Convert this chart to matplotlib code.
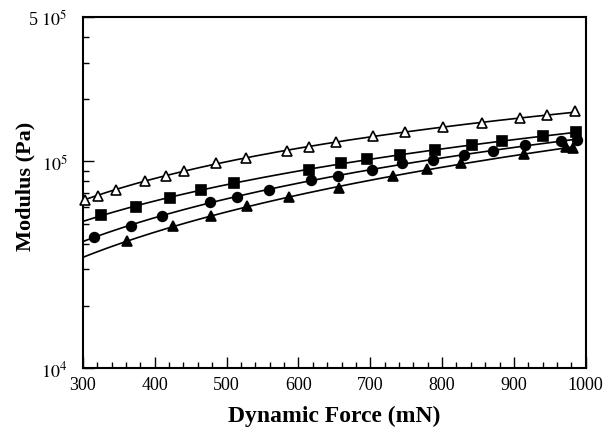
import numpy as np
import matplotlib
matplotlib.use("Agg")
import matplotlib.pyplot as plt
from matplotlib.ticker import FixedLocator, MultipleLocator, LogLocator, NullFormatter

# Datos (fuerza dinamica en mN, modulo en Pa)
f_open_tri = [303, 321, 346, 386, 416, 441, 485, 527, 584, 615, 653, 704,
              748, 801, 856, 909, 946, 985]
g_open_tri = [6.54e4, 6.82e4, 7.30e4, 8.08e4, 8.53e4, 9.02e4, 9.82e4, 1.039e5,
              1.129e5, 1.181e5, 1.237e5, 1.323e5, 1.388e5, 1.462e5, 1.535e5,
              1.617e5, 1.683e5, 1.748e5]

f_square = [325, 374, 421, 464, 510, 615, 659, 696, 741, 790, 841, 884, 940, 986]
g_square = [5.50e4, 6.04e4, 6.67e4, 7.27e4, 7.86e4, 9.12e4, 9.79e4, 1.024e5,
            1.080e5, 1.139e5, 1.200e5, 1.252e5, 1.323e5, 1.383e5]

f_circle = [315, 367, 410, 477, 515, 559, 617, 655, 702, 744, 787, 830, 871,
            915, 966, 988]
g_circle = [4.32e4, 4.89e4, 5.42e4, 6.34e4, 6.75e4, 7.30e4, 8.13e4, 8.53e4,
            9.12e4, 9.82e4, 1.019e5, 1.077e5, 1.127e5, 1.200e5, 1.252e5, 1.274e5]

f_fill_tri = [362, 426, 479, 529, 587, 657, 732, 779, 827, 914, 973, 982]
g_fill_tri = [4.11e4, 4.85e4, 5.46e4, 6.08e4, 6.69e4, 7.42e4, 8.53e4, 9.19e4,
              9.82e4, 1.086e5, 1.170e5, 1.161e5]

plt.rcParams['font.family'] = ['Liberation Serif', 'DejaVu Serif']
plt.rcParams['mathtext.fontset'] = 'stix'

fig = plt.figure(figsize=(6.14, 4.31), dpi=100, facecolor="white")
ax = fig.add_axes([0.135, 0.144, 0.819, 0.814])

series = [
    (f_open_tri, g_open_tri, '^', 'white'),
    (f_square, g_square, 's', 'black'),
    (f_circle, g_circle, 'o', 'black'),
    (f_fill_tri, g_fill_tri, '^', 'black'),
]

for f, g, mk, fc in series:
    f = np.array(f, dtype=float)
    g = np.array(g, dtype=float)
    # Curva de ajuste en escala log-log, desde 300 mN hasta el ultimo punto
    coef = np.polyfit(np.log10(f), np.log10(g), 2)
    xf = np.linspace(300, f.max(), 200)
    ax.plot(xf, 10 ** np.polyval(coef, np.log10(xf)), color='black', lw=1.2, zorder=2)
    ax.plot(f, g, linestyle='none', marker=mk, ms=7, mfc=fc, mec='black',
            mew=1.2, zorder=3, clip_on=False)

ax.set_yscale('log')
ax.set_xlim(300, 1000)
ax.set_ylim(1e4, 5e5)

ax.xaxis.set_major_locator(MultipleLocator(100))
ax.xaxis.set_minor_locator(MultipleLocator(20))
ax.yaxis.set_major_locator(FixedLocator([1e4, 1e5, 5e5]))
ax.set_yticklabels([r'$10^4$', r'$10^5$', r'5 $10^5$'])
ax.yaxis.set_minor_locator(LogLocator(base=10, subs=np.arange(2, 10)))
ax.yaxis.set_minor_formatter(NullFormatter())

ax.tick_params(which='both', direction='in', top=False, right=False, labelsize=13)
ax.tick_params(which='major', length=8, width=1.0)
ax.tick_params(which='minor', length=4, width=1.0)
ax.tick_params(axis='x', pad=6)
ax.tick_params(axis='y', pad=11)
for s in ax.spines.values():
    s.set_linewidth(1.5)

ax.set_xlabel('Dynamic Force (mN)', fontsize=17, fontweight='bold', labelpad=8)
ax.set_ylabel('Modulus (Pa)', fontsize=16, fontweight='bold')
ax.yaxis.set_label_coords(-0.095, 0.52)

fig.savefig('out.png', dpi=100, facecolor='white')
